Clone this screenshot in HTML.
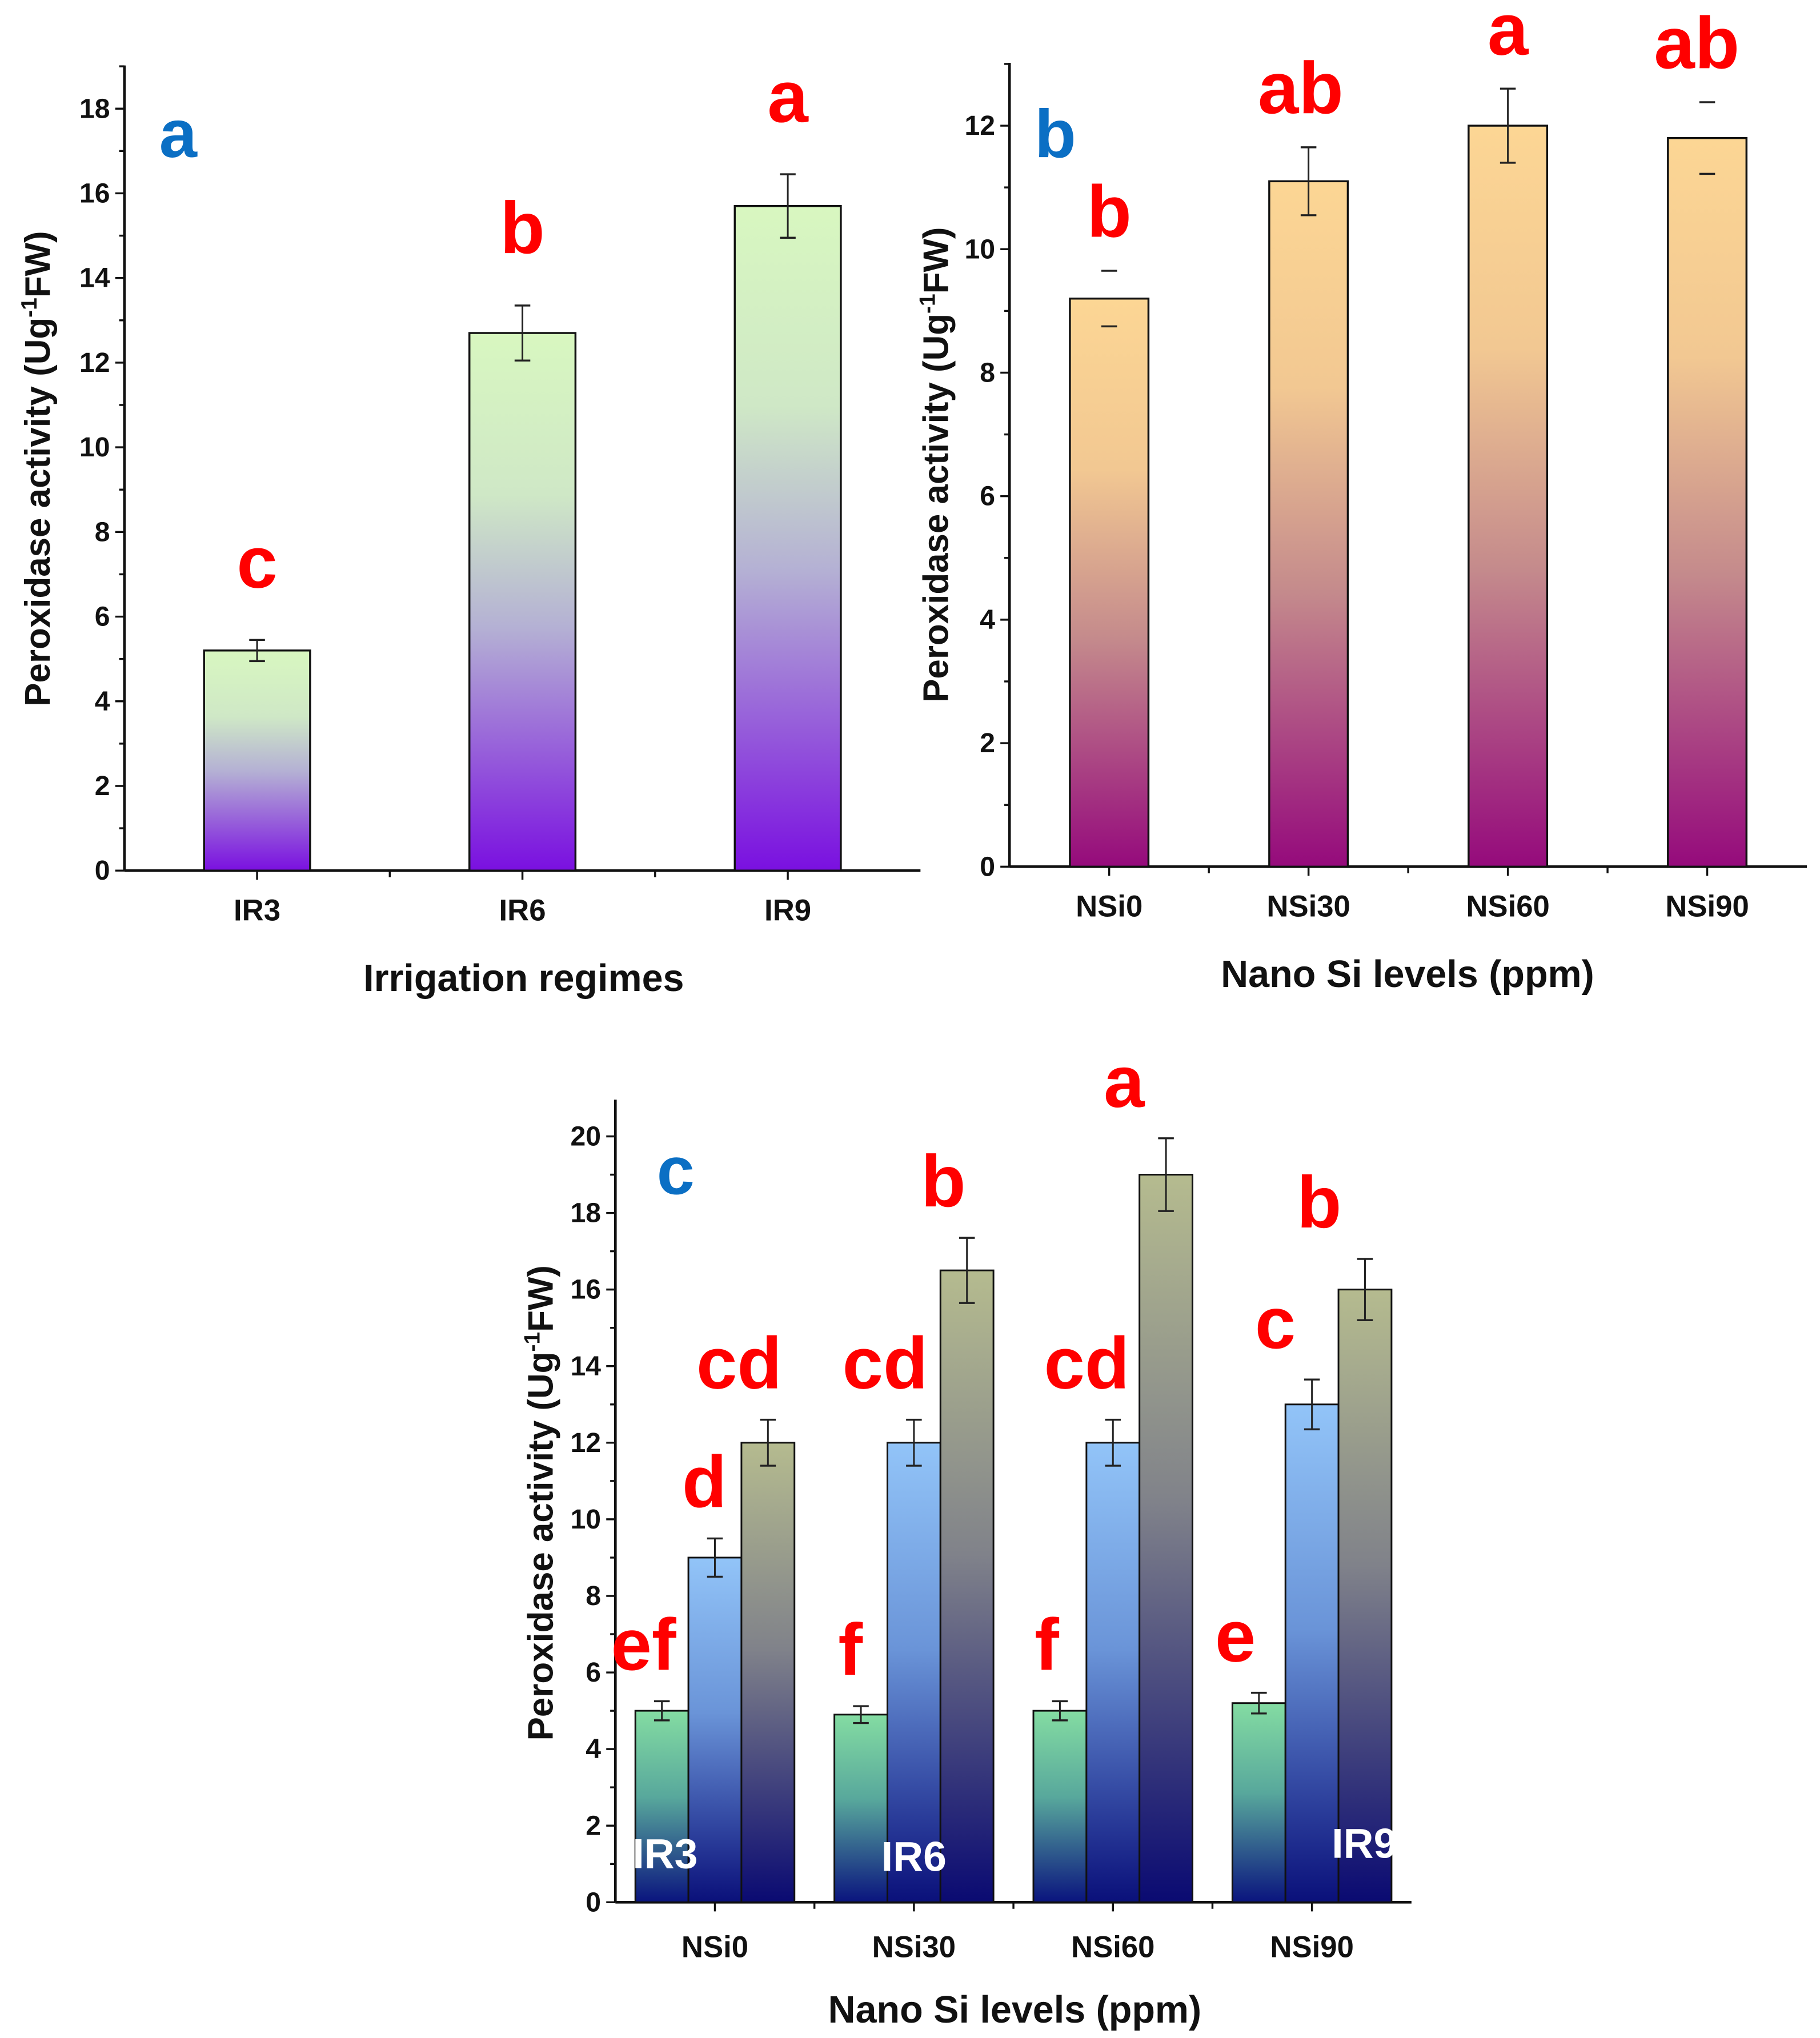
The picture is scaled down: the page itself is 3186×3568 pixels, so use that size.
<!DOCTYPE html>
<html><head><meta charset="utf-8"><style>
html,body{margin:0;padding:0;background:#fff;}
svg{display:block;font-family:"Liberation Sans",sans-serif;}
.tk{font-size:21px;font-weight:bold;fill:#111;}
.xl{font-size:23px;font-weight:bold;fill:#111;font-family:"Liberation Sans Narrow","Liberation Sans",sans-serif;}
.tt{font-size:29px;font-weight:bold;fill:#111;font-family:"Liberation Sans Narrow","Liberation Sans",sans-serif;}
.yl{font-size:27px;font-weight:bold;fill:#111;}
.red{font-size:56px;font-weight:bold;fill:#f00;font-family:"Liberation Sans Narrow","Liberation Sans",sans-serif;}
.blue{font-size:52px;font-weight:bold;fill:#0b6fc4;font-family:"Liberation Sans Narrow","Liberation Sans",sans-serif;}
.wl{font-size:32px;font-weight:bold;fill:#fff;font-family:"Liberation Sans Narrow","Liberation Sans",sans-serif;}
</style></head><body>
<svg id="fig" width="3186" height="3568" viewBox="0 0 1390 1556.7" xmlns="http://www.w3.org/2000/svg">
<defs>
<linearGradient id="gA" x1="0" y1="0" x2="0" y2="1"><stop offset="0" stop-color="#d8f7c0"/><stop offset="0.3" stop-color="#cfe8c6"/><stop offset="0.55" stop-color="#b4b0d4"/><stop offset="1" stop-color="#7a10e0"/></linearGradient>
<linearGradient id="gB" x1="0" y1="0" x2="0" y2="1"><stop offset="0" stop-color="#fcd694"/><stop offset="0.3" stop-color="#f2c892"/><stop offset="0.6" stop-color="#c48a8c"/><stop offset="1" stop-color="#950a7c"/></linearGradient>
<linearGradient id="g0" x1="0" y1="0" x2="0" y2="1"><stop offset="0" stop-color="#84dca2"/><stop offset="0.45" stop-color="#58a89c"/><stop offset="1" stop-color="#0a147e"/></linearGradient>
<linearGradient id="g1" x1="0" y1="0" x2="0" y2="1"><stop offset="0" stop-color="#92c4f8"/><stop offset="0.45" stop-color="#6a94d8"/><stop offset="1" stop-color="#0a107a"/></linearGradient>
<linearGradient id="g2" x1="0" y1="0" x2="0" y2="1"><stop offset="0" stop-color="#b5bb8f"/><stop offset="0.45" stop-color="#80828a"/><stop offset="1" stop-color="#0a0a72"/></linearGradient>
</defs>
<g id="pa"></g>
<g id="pb"></g>
<g id="pc"></g>
</svg>
<script>
// Panel a data
const catsA = ["IR3","IR6","IR9"];
const valsA = [5.2,12.7,15.7];
const errA = [0.25,0.65,0.75];
const lettersA = ["c","b","a"];
const ticksA = [0,2,4,6,8,10,12,14,16,18];
// Panel b data
const catsB = ["NSi0","NSi30","NSi60","NSi90"];
const valsB = [9.2,11.1,12.0,11.8];
const errB = [0.45,0.55,0.6,0.58];
const lettersB = ["b","ab","a","ab"];
const ticksB = [0,2,4,6,8,10,12];
// Panel c data
const catsC = ["NSi0","NSi30","NSi60","NSi90"];
const valsIR3 = [5.0,4.9,5.0,5.2];
const valsIR6 = [9.0,12.0,12.0,13.0];
const valsIR9 = [12.0,16.5,19.0,16.0];
const errIR3 = [0.25,0.22,0.25,0.27];
const errIR6 = [0.5,0.6,0.6,0.65];
const errIR9 = [0.6,0.85,0.95,0.8];
const lettersIR3 = ["ef","f","f","e"];
const lettersIR6 = ["d","cd","cd","c"];
const lettersIR9 = ["cd","b","a","b"];
const ticksC = [0,2,4,6,8,10,12,14,16,18,20];

const NS="http://www.w3.org/2000/svg";
function mk(p,tag,at,txt){const e=document.createElementNS(NS,tag);for(const k in at)e.setAttribute(k,at[k]);if(txt!==undefined)e.textContent=txt;p.appendChild(e);return e;}

function axes(g,o){
  const y=v=>o.y0-(v-0)*(o.y0-o.yTop)/o.vTop;
  let e=mk(g,'line',{x1:o.x0,y1:o.yEnd,x2:o.x0,y2:o.y0,stroke:'#111','stroke-width':2});
  
  e=mk(g,'line',{x1:o.x0,y1:o.y0,x2:o.x1,y2:o.y0,stroke:'#111','stroke-width':2});
  
  const maxV=o.ticks[o.ticks.length-1]+1;
  for(let v=0;v<=maxV;v++){const yy=y(v);if(yy<o.yEnd)break;const major=o.ticks.includes(v);
    mk(g,'line',{x1:o.x0-(major?7:4),y1:yy,x2:o.x0,y2:yy,stroke:'#111','stroke-width':1.5});}
  o.ticks.forEach(v=>{const t=mk(g,'text',{x:o.x0-11,y:y(v)+7,'text-anchor':'end',class:'tk'},String(v));
    });
  return y;
}
function err(g,cx,top,e,y,w,noStem){
  if(!noStem) mk(g,'line',{x1:cx,y1:y(top+e),x2:cx,y2:y(top-e),stroke:'#222','stroke-width':1.3});
  mk(g,'line',{x1:cx-w,y1:y(top+e),x2:cx+w,y2:y(top+e),stroke:'#222','stroke-width':1.5});
  mk(g,'line',{x1:cx-w,y1:y(top-e),x2:cx+w,y2:y(top-e),stroke:'#222','stroke-width':1.5});
}
function simple(g,o,cats,vals,errs,letters,fill){
  const y=axes(g,o);
  const step=(o.x1-o.x0)/cats.length;
  cats.forEach((c,i)=>{
    const cx=o.x0+step*(i+0.5);
    const r=mk(g,'rect',{x:cx-o.bw/2,y:y(vals[i]),width:o.bw,height:o.y0-y(vals[i]),fill:'url(#'+fill+')',stroke:'#111','stroke-width':1.5});
    
    err(g,cx,vals[i],errs[i],y,6,o.noStem&&o.noStem[i]);
    mk(g,'line',{x1:cx,y1:o.y0,x2:cx,y2:o.y0+7,stroke:'#111','stroke-width':1.5});
    if(i>0) mk(g,'line',{x1:o.x0+step*i,y1:o.y0,x2:o.x0+step*i,y2:o.y0+5,stroke:'#111','stroke-width':1.5});
    const t=mk(g,'text',{x:cx,y:o.y0+38,'text-anchor':'middle',class:'xl'},c);
    
    const l=mk(g,'text',{x:cx+(o.ldx?o.ldx[i]:0),y:y(vals[i]+errs[i])-o.lgap,'text-anchor':'middle',class:'red'},letters[i]);
    
  });
}
// Panel a
const ga=document.getElementById('pa');
simple(ga,{x0:95,x1:703,y0:665,yTop:83,vTop:18,yEnd:50,ticks:ticksA,bw:81,lgap:40},catsA,valsA,errA,lettersA,'gA');
let t=mk(ga,'text',{x:400,y:757,'text-anchor':'middle',class:'tt'},'Irrigation regimes');
t=mk(ga,'text',{transform:'translate(38,358) rotate(-90)','text-anchor':'middle',class:'yl'});
t.innerHTML='Peroxidase activity (Ug<tspan dy="-10" font-size="17">-1</tspan><tspan dy="10">FW)</tspan>';
t=mk(ga,'text',{x:136,y:120,'text-anchor':'middle',class:'blue'},'a');
// Panel b
const gb=document.getElementById('pb');
simple(gb,{x0:771,x1:1380,y0:662,yTop:96,vTop:12,yEnd:48,ticks:ticksB,bw:60,lgap:26,ldx:[0,-6,0,-8],noStem:[true,false,false,true]},catsB,valsB,errB,lettersB,'gB');
t=mk(gb,'text',{x:1075,y:754,'text-anchor':'middle',class:'tt'},'Nano Si levels (ppm)');
t=mk(gb,'text',{transform:'translate(724,355) rotate(-90)','text-anchor':'middle',class:'yl'});
t.innerHTML='Peroxidase activity (Ug<tspan dy="-10" font-size="17">-1</tspan><tspan dy="10">FW)</tspan>';
t=mk(gb,'text',{x:806,y:120,'text-anchor':'middle',class:'blue'},'b');
// Panel c
const gc=document.getElementById('pc');
const oc={x0:470,x1:1078,y0:1453,yTop:868,vTop:20,yEnd:840,ticks:ticksC};
const yc=axes(gc,oc);
const series=[[valsIR3,errIR3,lettersIR3,'g0','ir3'],[valsIR6,errIR6,lettersIR6,'g1','ir6'],[valsIR9,errIR9,lettersIR9,'g2','ir9']];
const stepC=152,bwC=40.5,ldxC=[[-14,-8,-10,-18],[-8,-22,-20,-28],[-22,-18,-32,-35]];
catsC.forEach((c,i)=>{
  const cx=oc.x0+76+stepC*i;
  series.forEach((s,j)=>{
    const bx=cx-bwC*1.5+bwC*j, v=s[0][i];
    const r=mk(gc,'rect',{x:bx,y:yc(v),width:bwC,height:oc.y0-yc(v),fill:'url(#'+s[3]+')',stroke:'#111','stroke-width':1.3});
    
    err(gc,bx+bwC/2,v,s[1][i],yc,6);
    const l=mk(gc,'text',{x:bx+bwC/2+ldxC[j][i],y:yc(v+s[1][i])-24,'text-anchor':'middle',class:'red'},s[2][i]);
    
  });
  mk(gc,'line',{x1:cx,y1:oc.y0,x2:cx,y2:oc.y0+7,stroke:'#111','stroke-width':1.5});
  if(i>0) mk(gc,'line',{x1:cx-76,y1:oc.y0,x2:cx-76,y2:oc.y0+5,stroke:'#111','stroke-width':1.5});
  const tl=mk(gc,'text',{x:cx,y:oc.y0+42,'text-anchor':'middle',class:'xl'},c);
  
});
t=mk(gc,'text',{x:775,y:1545,'text-anchor':'middle',class:'tt'},'Nano Si levels (ppm)');
t=mk(gc,'text',{transform:'translate(422,1148) rotate(-90)','text-anchor':'middle',class:'yl'});
t.innerHTML='Peroxidase activity (Ug<tspan dy="-10" font-size="17">-1</tspan><tspan dy="10">FW)</tspan>';
t=mk(gc,'text',{x:516,y:912,'text-anchor':'middle',class:'blue'},'c');
t=mk(gc,'text',{x:508,y:1427,'text-anchor':'middle',class:'wl'},'IR3');
t=mk(gc,'text',{x:698,y:1429,'text-anchor':'middle',class:'wl'},'IR6');
t=mk(gc,'text',{x:1042,y:1419,'text-anchor':'middle',class:'wl'},'IR9');
</script>
</body></html>
